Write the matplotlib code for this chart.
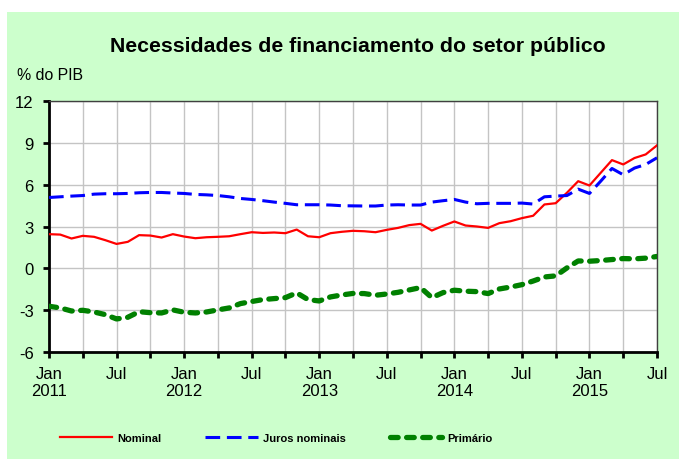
import matplotlib.pyplot as plt
import matplotlib.patches as mpatches
import pandas as pd

plt.rcParams["font.family"] = ["Liberation Sans", "DejaVu Sans"]
plt.rcParams["axes.unicode_minus"] = False

months = pd.date_range("2011-01-01", "2015-07-01", freq="MS")

nominal = [2.45, 2.42, 2.14, 2.33, 2.26, 2.02, 1.75, 1.90, 2.38, 2.35,
           2.21, 2.45, 2.28, 2.16, 2.23, 2.26, 2.30, 2.45, 2.59, 2.54,
           2.57, 2.52, 2.78, 2.30, 2.23, 2.52, 2.62, 2.69, 2.66, 2.59,
           2.76, 2.90, 3.10, 3.19, 2.71, 3.05, 3.36, 3.07, 3.00, 2.90,
           3.24, 3.38, 3.60, 3.77, 4.58, 4.67, 5.42, 6.25, 5.94, 6.85,
           7.76, 7.45, 7.91, 8.17, 8.82]
juros = [5.08, 5.13, 5.18, 5.22, 5.32, 5.35, 5.35, 5.37, 5.42, 5.44,
         5.44, 5.40, 5.37, 5.30, 5.27, 5.22, 5.13, 5.01, 4.94, 4.85,
         4.75, 4.66, 4.56, 4.56, 4.56, 4.54, 4.49, 4.48, 4.47, 4.47,
         4.54, 4.56, 4.54, 4.54, 4.75, 4.85, 4.94, 4.75, 4.63, 4.66,
         4.66, 4.66, 4.68, 4.61, 5.13, 5.18, 5.22, 5.68, 5.37, 6.25,
         7.16, 6.71, 7.19, 7.45, 7.93]
primario = [-2.72, -2.84, -3.06, -3.01, -3.13, -3.32, -3.63, -3.51, -3.11, -3.18,
            -3.20, -2.98, -3.15, -3.20, -3.13, -2.98, -2.84, -2.53, -2.38, -2.24,
            -2.17, -2.10, -1.76, -2.24, -2.34, -2.05, -1.91, -1.80, -1.81, -1.93,
            -1.84, -1.72, -1.55, -1.38, -2.10, -1.74, -1.57, -1.64, -1.67, -1.81,
            -1.48, -1.34, -1.17, -0.91, -0.62, -0.54, 0.03, 0.53, 0.51, 0.56,
            0.63, 0.70, 0.68, 0.73, 0.85]

y_ticks = [-6, -3, 0, 3, 6, 9, 12]
x_labels = ["Jan\n2011", "Jul", "Jan\n2012", "Jul", "Jan\n2013", "Jul",
            "Jan\n2014", "Jul", "Jan\n2015", "Jul"]

fig = plt.figure(figsize=(6.79, 4.60), dpi=100, facecolor="white")
# light green panel, leaves a white margin top and left
bg = mpatches.Rectangle((7 / 679, 0), 1, 1 - 13 / 460, transform=fig.transFigure,
                        facecolor="#CCFFCC", edgecolor="none", zorder=-10)
fig.patches.append(bg)

ax = fig.add_axes([49 / 679, 1 - 353 / 460, 608 / 679, 251 / 460])
ax.set_zorder(2)
ax.set_facecolor("white")

x = range(len(months))
ax.plot(x, nominal, color="#FF0000", lw=1.6, label="Nominal", zorder=3)
ax.plot(x, juros, color="#0000FF", lw=2.2, dashes=(4.8, 2.2), label="Juros nominais", zorder=3)
ax.plot(x, primario, color="#008000", lw=3.8, dashes=(1.45, 1.6),
        dash_capstyle="round", label="Primário", zorder=3)

ax.set_xlim(0, len(months) - 1)
ax.set_ylim(-6, 12)
ax.set_yticks(y_ticks)
ax.set_xticks(range(0, len(months), 6))
ax.set_xticks(range(3, len(months), 6), minor=True)
ax.set_xticklabels(x_labels)

ax.grid(True, which="both", color="#C4C4C4", lw=1.0)
ax.set_axisbelow(True)

for side in ["left", "bottom"]:
    ax.spines[side].set_linewidth(2.0)
    ax.spines[side].set_color("black")
for side in ["top", "right"]:
    ax.spines[side].set_linewidth(1.0)
    ax.spines[side].set_color("#404040")

ax.tick_params(axis="both", which="both", direction="out", length=4, width=2,
               color="black", labelsize=12)
ax.tick_params(axis="y", pad=7)
ax.tick_params(axis="x", which="major", pad=6)

fig.text(358 / 679, 1 - 46 / 460, "Necessidades de financiamento do setor público",
         ha="center", va="center", fontsize=15.3, fontweight="bold")
fig.text(17 / 679, 1 - 76 / 460, "% do PIB", ha="left", va="center", fontsize=11.4)

fig.legend(loc="center", bbox_to_anchor=(276 / 679, 1 - 439 / 460), ncol=3, frameon=False,
           prop={"weight": "bold", "size": 8}, handlelength=4.7, columnspacing=4.0,
           handletextpad=0.45)

fig.savefig("out.png", dpi=100, facecolor=fig.get_facecolor())
